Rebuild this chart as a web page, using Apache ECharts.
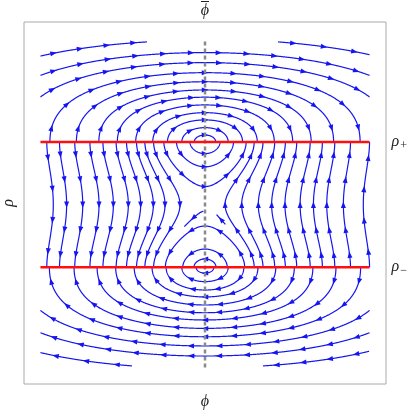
<!DOCTYPE html>
<html>
<head>
<meta charset="utf-8">
<script src="https://cdn.jsdelivr.net/npm/echarts@6/dist/echarts.min.js"></script>
<style>
  html, body { margin: 0; padding: 0; background: #fff; }
  #chart { width: 415px; height: 410px; }
</style>
</head>
<body>
<div id="chart"></div>
<script>
// the two critical lines
const rhoPlus = 0.37;
const rhoMinus = -0.39;
// weight of the phi^2 part of the invariant
const phiWeight = 0.28;

// streamlines above rho+ : rho where each one crosses phi = 0
const upperArcs = [0.914, 0.853, 0.792, 0.737, 0.687, 0.643, 0.596, 0.549, 0.505, 0.458, 0.413];
// streamlines below rho-
const lowerArcs = [-0.426, -0.478, -0.529, -0.571, -0.620, -0.667, -0.711, -0.762, -0.813, -0.869, -0.930];
// loops hanging under rho+ / sitting on rho- (crossing phi = 0)
const upperLoops = [0.30, 0.22, 0.10];
const lowerLoops = [-0.14, -0.28, -0.34];
// lines running between rho+ and rho-: phi where they cross the middle
const throughLines = [-0.922, -0.841, -0.743, -0.644, -0.557, -0.466, -0.391, -0.314, -0.243, -0.152,
  0.122, 0.223, 0.324, 0.405, 0.486, 0.578, 0.659, 0.740, 0.841, 0.962];
// short pieces: [phi, rho, length backwards, length forwards]
const pieces = [
  [-0.353, 0.979, 0.7, 0],
  [0.444, 0.979, 0, 0.6],
  [-0.444, -0.99, 0, 0.6],
  [0.353, -0.99, 0.65, 0],
  [-0.01, -0.05, 0, 0.15],
  [0.07, -0.07, 0.08, 0]
];

const rhoMid = (rhoPlus + rhoMinus) / 2;
const halfGap = (rhoPlus - rhoMinus) / 2;
const blue = '#1515f2';

// follow the flow from a seed, sgn = 1 forwards, -1 backwards
function trace(p, r, sgn, maxLen) {
  const pts = [];
  const h = 0.003;
  const side = (r - rhoPlus) * (r - rhoMinus) > 0 ? 1 : -1;
  const dir = function(pp, rr) {
    const u = rr - rhoMid;
    const a = 4 * u * (u * u - halfGap * halfGap) * side * sgn;
    const b = -2 * phiWeight * pp * side * sgn;
    const n = Math.hypot(a, b) || 1;
    return [a / n, b / n];
  };
  let len = 0;
  while (len < maxLen && pts.length < 4000) {
    const k1 = dir(p, r);
    const k2 = dir(p + h / 2 * k1[0], r + h / 2 * k1[1]);
    const k3 = dir(p + h / 2 * k2[0], r + h / 2 * k2[1]);
    const k4 = dir(p + h * k3[0], r + h * k3[1]);
    const np = p + h / 6 * (k1[0] + 2 * k2[0] + 2 * k3[0] + k4[0]);
    const nr = r + h / 6 * (k1[1] + 2 * k2[1] + 2 * k3[1] + k4[1]);
    for (const lim of [rhoPlus, rhoMinus]) {
      if ((r - lim) * (nr - lim) < 0) {
        const t = (lim - r) / (nr - r);
        pts.push([p + t * (np - p), lim]);
        return pts;
      }
    }
    if (Math.abs(np) > 1 || Math.abs(nr) > 1) {
      let t = 1;
      if (Math.abs(np) > 1) t = Math.min(t, (Math.sign(np) - p) / (np - p));
      if (Math.abs(nr) > 1) t = Math.min(t, (Math.sign(nr) - r) / (nr - r));
      pts.push([p + t * (np - p), r + t * (nr - r)]);
      return pts;
    }
    p = np; r = nr; len += h;
    pts.push([p, r]);
  }
  return pts;
}

const seeds = [];
upperArcs.forEach(r => seeds.push([0, r, 9, 9]));
lowerArcs.forEach(r => seeds.push([0, r, 9, 9]));
upperLoops.forEach(r => seeds.push([0, r, 9, 9]));
lowerLoops.forEach(r => seeds.push([0, r, 9, 9]));
throughLines.forEach(p => seeds.push([p, rhoMid, 9, 9]));
pieces.forEach(s => seeds.push(s));

const streamlines = seeds.map(s => {
  const back = trace(s[0], s[1], -1, s[2]).reverse();
  const fwd = trace(s[0], s[1], 1, s[3]);
  return back.concat([[s[0], s[1]]], fwd);
});

const arrowGap = 28;
function renderItem(params, api) {
  const line = streamlines[api.value(2)];
  const px = line.map(q => api.coord(q));
  const children = [{
    type: 'polyline',
    shape: { points: px },
    style: { stroke: blue, fill: null, lineWidth: 1.2 }
  }];
  const cum = [0];
  for (let i = 1; i < px.length; i++) {
    cum.push(cum[i - 1] + Math.hypot(px[i][0] - px[i - 1][0], px[i][1] - px[i - 1][1]));
  }
  const total = cum[cum.length - 1];
  const n = Math.max(1, Math.round(total / arrowGap));
  let j = 0;
  for (let k = 0; k < n; k++) {
    const target = (k + 0.5) * total / n;
    while (j < cum.length - 2 && cum[j + 1] < target) j++;
    const seg = cum[j + 1] - cum[j] || 1;
    const t = (target - cum[j]) / seg;
    const x = px[j][0] + t * (px[j + 1][0] - px[j][0]);
    const y = px[j][1] + t * (px[j + 1][1] - px[j][1]);
    const a = px[Math.max(0, j - 3)], b = px[Math.min(px.length - 1, j + 4)];
    let dx = b[0] - a[0], dy = b[1] - a[1];
    const m = Math.hypot(dx, dy) || 1;
    dx /= m; dy /= m;
    const L = 6.5, W = 2.5;
    children.push({
      type: 'polygon',
      shape: { points: [
        [x + dx * L / 2, y + dy * L / 2],
        [x - dx * L / 2 - dy * W, y - dy * L / 2 + dx * W],
        [x - dx * L / 2 + dy * W, y - dy * L / 2 - dx * W]
      ] },
      style: { fill: blue }
    });
  }
  return { type: 'group', children: children };
}

const labelFont = { fontFamily: 'Liberation Serif', fontStyle: 'italic', fontSize: 16, color: '#222' };
const hiddenAxis = {
  axisLine: { show: false }, axisTick: { show: false },
  axisLabel: { show: false }, splitLine: { show: false }
};
const subStyle = { fontFamily: 'Liberation Serif', fontSize: 12, color: '#222', padding: [7, 0, 0, 1] };

const chart = echarts.init(document.getElementById('chart'));
chart.setOption({
  animation: false,
  grid: { left: 24, right: 29, top: 22, bottom: 26, show: true, borderColor: '#aaaaaa', borderWidth: 1,
    outerBoundsMode: 'none', containLabel: false },
  xAxis: [
    Object.assign({ type: 'value', min: -1.1, max: 1.1, position: 'bottom',
      name: 'ϕ', nameLocation: 'middle', nameGap: 10, nameTextStyle: labelFont }, hiddenAxis),
    Object.assign({ type: 'value', min: -1.1, max: 1.1, position: 'top',
      name: '{b|}\n{p|ϕ}', nameLocation: 'middle', nameGap: 4,
      nameTextStyle: Object.assign({}, labelFont, { rich: {
        b: { width: 8, height: 1, lineHeight: 3, backgroundColor: '#222', padding: [0, 0, 0, 0], align: 'center' },
        p: Object.assign({ lineHeight: 15, align: 'center' }, labelFont)
      } }) }, hiddenAxis)
  ],
  yAxis: Object.assign({ type: 'value', min: -1.1, max: 1.1,
    name: 'ρ', nameLocation: 'middle', nameGap: 7, nameRotate: 90, nameTextStyle: labelFont }, hiddenAxis),
  series: [
    {
      type: 'custom',
      renderItem: renderItem,
      data: seeds.map((s, i) => [s[0], s[1], i]),
      z: 2,
      silent: true
    },
    {
      type: 'line',
      data: [[0, -1], [0, 1]],
      symbol: 'none',
      lineStyle: { color: '#8a8a8a', width: 2.5, type: [4, 3] },
      z: 4,
      silent: true
    },
    {
      type: 'line',
      data: [[-1, rhoPlus], [1, rhoPlus]],
      symbol: 'none',
      lineStyle: { color: '#ff1010', width: 2.5 },
      endLabel: { show: true, distance: 22, formatter: '{r|ρ}{s|+}', rich: { r: labelFont, s: subStyle } },
      z: 5,
      silent: true
    },
    {
      type: 'line',
      data: [[-1, rhoMinus], [1, rhoMinus]],
      symbol: 'none',
      lineStyle: { color: '#ff1010', width: 2.5 },
      endLabel: { show: true, distance: 22, formatter: '{r|ρ}{s|−}', rich: { r: labelFont, s: subStyle } },
      z: 5,
      silent: true
    }
  ]
});
</script>
</body>
</html>
